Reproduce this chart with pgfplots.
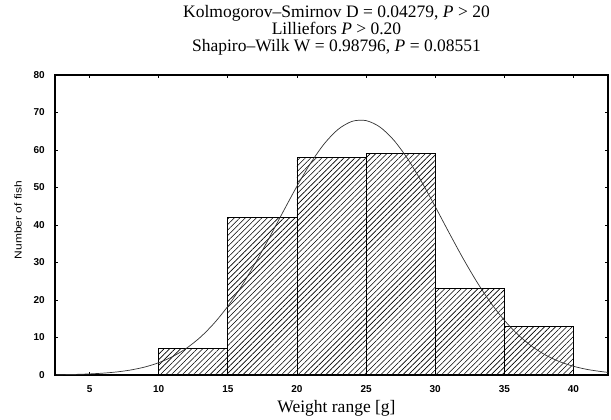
\documentclass[border=0pt]{standalone}
\usepackage{fontspec}
\setmainfont{Liberation Serif}
\setsansfont{Liberation Sans}
\newfontfamily\ylabfont[FakeStretch=1.2]{Liberation Sans}
\usepackage{pgfplots}
\pgfplotsset{compat=1.18}
\usetikzlibrary{patterns.meta}

\begin{document}
\begin{tikzpicture}
\begin{axis}[
    scale only axis,
    width=553pt, height=300pt,
    xmin=2.5, xmax=42.5,
    ymin=0, ymax=80,
    xtick={5,10,...,40},
    ytick={0,10,...,80},
    tick align=inside,
    major tick length=3pt,
    axis line style={line width=1.1pt},
    every tick/.style={black, line width=0.8pt},
    ticklabel style={font=\sffamily\bfseries\fontsize{10}{11}\selectfont, inner sep=0pt},
    xticklabel style={anchor=center, yshift=-14pt},
    yticklabel style={anchor=east, xshift=-10pt},
    /pgf/number format/assume math mode=true,
    xlabel={Weight range [g]},
    xlabel style={font=\fontsize{17.5}{18}\selectfont,
        at={(axis description cs:0.5,0)}, anchor=base, yshift=-37pt, xshift=5pt},
    ylabel={Number of fish},
    ylabel style={font=\ylabfont\fontsize{10}{11}\selectfont,
        at={(axis description cs:0,0.5)}, anchor=center, yshift=37pt, xshift=5pt},
    title={Kolmogorov--Smirnov D = 0.04279, \textit{P} > 20\\Lilliefors \textit{P} > 0.20\\Shapiro--Wilk W = 0.98796, \textit{P} = 0.08551},
    title style={align=center, font=\fontsize{17.5}{17}\selectfont,
        at={(axis description cs:0.5,1)}, anchor=south, yshift=10pt, xshift=5pt},
]

% histogram of fish weights
\addplot[ybar interval, draw=black, line width=0.8pt,
    pattern={Lines[angle=45, distance=3.9pt, line width=0.6pt]}]
coordinates {
    (10,7) (15,42) (20,58) (25,59) (30,23) (35,13) (40,13)
};

% fitted normal curve
\addplot[smooth, line width=0.7pt, black!80] coordinates {
    (2.6,0.07) (3,0.09) (4,0.16) (5,0.29) (6,0.50) (7,0.83) (8,1.35) (9,2.13)
    (10,3.28) (11,4.90) (12,7.11) (13,10.03) (14,13.76) (15,18.33)
    (16,23.75) (17,29.90) (18,36.60) (19,43.53) (20,50.33) (21,56.55)
    (22,61.77) (23,65.57) (24,67.65) (25,67.84) (26,66.13) (27,62.65)
    (28,57.69) (29,51.63) (30,44.92) (31,37.97) (32,31.20) (33,24.92)
    (34,19.35) (35,14.60) (36,10.71) (37,7.63) (38,5.29) (39,3.56)
    (40,2.33) (41,1.48) (42,0.92) (42.5,0.71)
};

\end{axis}
% page frame as in the reference
\path ([shift={(-55pt,-44pt)}]current axis.south west)
    rectangle ([shift={(3pt,75pt)}]current axis.north east);
\end{tikzpicture}
\end{document}
